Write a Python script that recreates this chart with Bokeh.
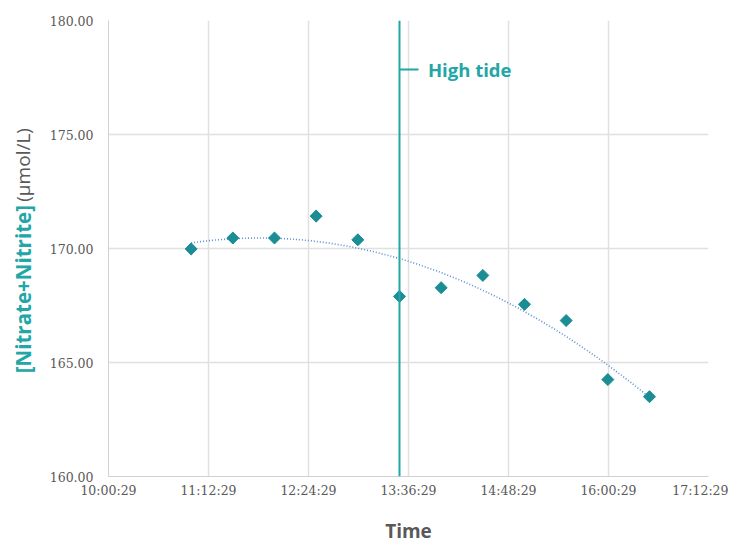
import numpy as np
from math import pi
from bokeh.plotting import figure
from bokeh.layouts import row
from bokeh.models import FixedTicker, Span, Label
from bokeh.embed import file_html
from bokeh.resources import INLINE

# ---- data ----
times = ["11:00", "11:30", "12:00", "12:30", "13:00", "13:30",
         "14:00", "14:30", "15:00", "15:30", "16:00", "16:30"]
conc = [169.98, 170.46, 170.46, 171.42, 170.38, 167.90,
        168.28, 168.82, 167.55, 166.84, 164.25, 163.50]
x_tick_labels = ["10:00:29", "11:12:29", "12:24:29", "13:36:29",
                 "14:48:29", "16:00:29", "17:12:29"]
y_ticks = [160, 165, 170, 175, 180]
high_tide_time = "13:30"
high_tide_label = "High tide"
y_title_main = "[Nitrate+Nitrite]"
y_title_unit = "(µmol/L)"


def to_min(s):
    parts = [int(v) for v in s.split(":")]
    while len(parts) < 3:
        parts.append(0)
    return parts[0] * 60 + parts[1] + parts[2] / 60.0


x = [to_min(t) for t in times]
xt = [to_min(t) for t in x_tick_labels]
ht = to_min(high_tide_time)

TEAL = "#1a8d95"
LINE_TEAL = "#22a6a6"
GRAY = "#595959"

H = 546
LW = 40

# ---- narrow left panel holding the two-style y-axis title ----
lp = figure(width=LW, height=H, output_backend="svg", toolbar_location=None,
            x_range=(0, LW), y_range=(0, H),
            min_border_left=0, min_border_right=0, min_border_top=0,
            min_border_bottom=0)
lp.axis.visible = False
lp.grid.visible = False
lp.outline_line_color = None
lp.add_layout(Label(x=22, y=H - 221, text=y_title_main, angle=pi / 2,
                    text_align="right", text_baseline="middle",
                    text_font="Open Sans", text_font_style="bold",
                    text_font_size="20.5px", text_color=LINE_TEAL))
lp.add_layout(Label(x=22, y=H - 217, text=y_title_unit, angle=pi / 2,
                    text_align="left", text_baseline="middle",
                    text_font="Open Sans", text_font_size="19px",
                    text_color=GRAY))

# ---- main chart ----
p = figure(width=728 - LW, height=H, output_backend="svg",
           toolbar_location=None,
           x_range=(xt[0], xt[-1]), y_range=(160, 180),
           min_border_left=108 - LW, min_border_right=20, min_border_top=20,
           min_border_bottom=69)
p.outline_line_color = None
p.background_fill_color = "white"

p.xaxis.ticker = FixedTicker(ticks=xt)
p.xaxis.major_label_overrides = {v: lab for v, lab in zip(xt, x_tick_labels)}
p.yaxis.ticker = FixedTicker(ticks=y_ticks)
p.yaxis.major_label_overrides = {v: f"{v:.2f}" for v in y_ticks}
for ax in (p.xaxis, p.yaxis):
    ax.major_tick_out = 0
    ax.major_tick_in = 0
    ax.minor_tick_out = 0
    ax.minor_tick_in = 0
    ax.axis_line_color = "#d0d0d0"
    ax.major_label_text_font = "DejaVu Serif"
    ax.major_label_text_font_size = "12.5px"
    ax.major_label_text_color = GRAY
p.yaxis.major_label_standoff = 15
p.xaxis.major_label_standoff = 6
p.xaxis.axis_label = "Time"
p.xaxis.axis_label_text_font = "Open Sans"
p.xaxis.axis_label_text_font_style = "bold"
p.xaxis.axis_label_text_font_size = "19px"
p.xaxis.axis_label_text_color = GRAY
p.xaxis.axis_label_standoff = 17

p.grid.grid_line_color = "#e0e0e0"
p.grid.grid_line_width = 1.5

# trend line (2nd-order polynomial fit of the data)
coef = np.polyfit(x, conc, 2)
xs = np.linspace(x[0], x[-1], 200)
p.line(xs, np.polyval(coef, xs), line_color="#5b8fd0", line_width=1.6,
       line_dash="1 2")

# high tide marker
p.add_layout(Span(location=ht, dimension="height", line_color=LINE_TEAL,
                  line_width=2))
p.segment(x0=[ht], y0=[177.85], x1=[ht + 13.7], y1=[177.85],
          line_color=LINE_TEAL, line_width=2)
p.add_layout(Label(x=ht + 20.5, y=177.85, text=high_tide_label,
                   text_baseline="middle", text_font="Open Sans",
                   text_font_style="bold", text_font_size="18.5px",
                   text_color=LINE_TEAL))

# data points
p.scatter(x, conc, marker="square", angle=pi / 4, size=8.5,
          fill_color=TEAL, line_color=TEAL)

layout = row(lp, p, spacing=0)
open("out.html", "w").write(file_html(layout, INLINE))
